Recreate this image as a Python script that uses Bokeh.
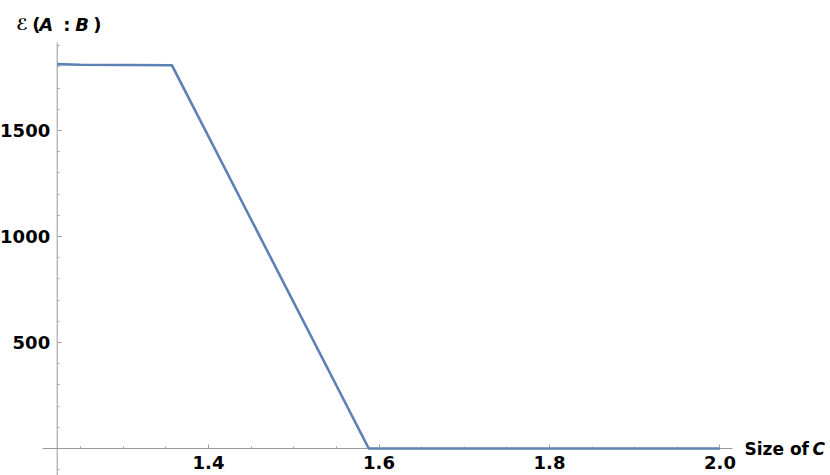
from bokeh.plotting import figure
from bokeh.models import Range1d, LinearAxis, FixedTicker, Label, PrintfTickFormatter
from bokeh.embed import file_html
from bokeh.resources import INLINE

# data
size_c = [1.2225, 1.25, 1.357, 1.588, 2.0]
entanglement = [1813, 1810, 1808, 0, 0]

x_major = [1.4, 1.6, 1.8, 2.0]
x_minor = [1.25, 1.30, 1.35, 1.45, 1.50, 1.55, 1.65, 1.70, 1.75, 1.85, 1.90, 1.95]
y_major = [500, 1000, 1500]
y_minor = [-100, 100, 200, 300, 400, 600, 700, 800, 900, 1100, 1200, 1300, 1400,
           1600, 1700, 1800, 1900]

X_ORIGIN = 1.2225
AX_X0, AX_X1 = 1.2053, 2.0147      # extent of the drawn x axis line
AX_Y0, AX_Y1 = -127, 1915          # extent of the drawn y axis line
VIEW_X = (1.15601, 2.12962)
VIEW_Y = (-127.4, 2113.2)

LINE_COLOR = "#5e81b5"
AXIS_COLOR = "#9a9a9a"
FONT = "DejaVu Sans"
FS = "18px"
FS_LABEL = "17px"

p = figure(width=830, height=475, output_backend="svg", toolbar_location=None,
           x_range=Range1d(*VIEW_X), y_range=Range1d(*VIEW_Y),
           x_axis_type=None, y_axis_type=None,
           min_border_left=0, min_border_right=0, min_border_top=0, min_border_bottom=0)
p.outline_line_color = None
p.background_fill_color = "white"
p.border_fill_color = "white"


def style_axis(ax):
    ax.axis_line_color = None
    ax.major_tick_line_color = AXIS_COLOR
    ax.minor_tick_line_color = AXIS_COLOR
    ax.major_tick_in = 4
    ax.major_tick_out = 0
    ax.minor_tick_in = 2
    ax.minor_tick_out = 0
    ax.major_label_text_font = FONT
    ax.major_label_text_font_style = "bold"
    ax.major_label_text_font_size = FS
    ax.major_label_text_color = "black"


# axis lines
p.segment(x0=[AX_X0, X_ORIGIN], y0=[0, AX_Y0], x1=[AX_X1, X_ORIGIN], y1=[0, AX_Y1],
          line_color=AXIS_COLOR, line_width=1)

xaxis = LinearAxis(fixed_location=0,
                   ticker=FixedTicker(ticks=x_major, minor_ticks=x_minor),
                   formatter=PrintfTickFormatter(format="%.1f"))
style_axis(xaxis)
xaxis.major_label_standoff = 8
p.add_layout(xaxis, "below")

yaxis = LinearAxis(fixed_location=X_ORIGIN,
                   ticker=FixedTicker(ticks=y_major, minor_ticks=y_minor))
style_axis(yaxis)
yaxis.major_label_standoff = 7
p.add_layout(yaxis, "left")

p.line(size_c, entanglement, line_color=LINE_COLOR, line_width=2.6)


def lab(x, y, text, dx, dy, style="bold", size=FS_LABEL):
    p.add_layout(Label(x=x, y=y, text=text, x_offset=dx, y_offset=dy,
                       text_font=FONT, text_font_size=size, text_font_style=style,
                       text_color="black", text_baseline="alphabetic", text_align="left"))


# x-axis label
lab(AX_X1, 0, "Size of", 12, -1)
lab(AX_X1, 0, "C", 80, -1, "bold italic")

# y-axis label
lab(X_ORIGIN, AX_Y1, "\u2130", -41, 18, "bold", "16px")
lab(X_ORIGIN, AX_Y1, "(", -25, 18, "bold", FS)
lab(X_ORIGIN, AX_Y1, "A", -18, 18, "bold italic", FS)
lab(X_ORIGIN, AX_Y1, ":", 6, 18, "bold", FS)
lab(X_ORIGIN, AX_Y1, "B", 18, 18, "bold italic", FS)
lab(X_ORIGIN, AX_Y1, ")", 36, 18, "bold", FS)

open("out.html", "w").write(file_html(p, INLINE))
